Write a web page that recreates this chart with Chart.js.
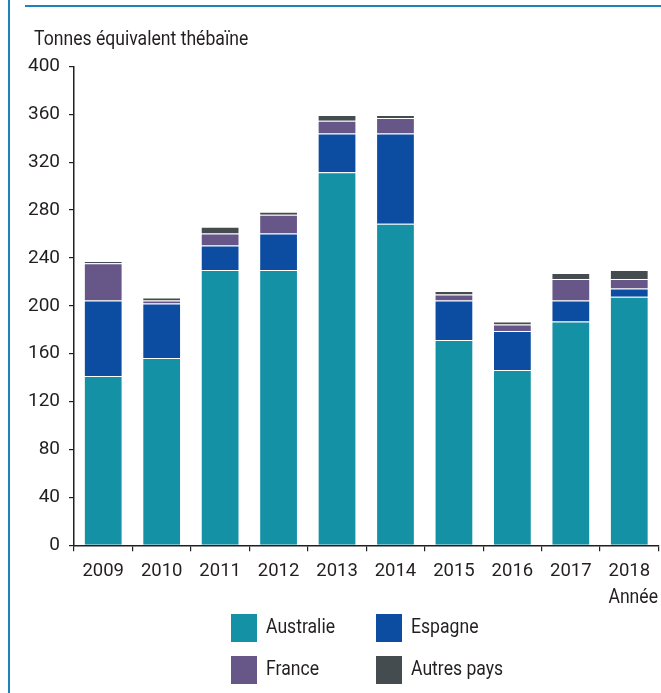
<!DOCTYPE html>
<html>
<head>
<meta charset="utf-8">
<script src="https://cdn.jsdelivr.net/npm/chart.js@4/dist/chart.umd.min.js"></script>
<style>
  html, body { margin: 0; padding: 0; background: #fff; }
  #wrap { width: 661px; height: 693px; }
</style>
</head>
<body>
<div id="wrap"><canvas id="c" width="661" height="693"></canvas></div>
<script>
// Imports of thebaine-equivalent raw material, tonnes, by origin country
const years     = ['2009', '2010', '2011', '2012', '2013', '2014', '2015', '2016', '2017', '2018'];
const australie = [141.5, 156.5, 230, 230, 311.5, 268.5, 171.5, 146.5, 187, 207.5];
const espagne   = [63, 45.5, 20.5, 30.5, 32.5, 75.5, 33, 32.5, 17.5, 7];
const france    = [31, 2.5, 10, 15.5, 10.5, 13, 5, 5.5, 18, 8];
const autres    = [2, 2.5, 5.5, 2.5, 5, 2.5, 3, 2.5, 5, 7.5];

const seriesNames  = ['Australie', 'Espagne', 'France', 'Autres pays'];
const seriesColors = ['#1591a6', '#0c4da1', '#675789', '#454c4f'];
const yTitle = 'Tonnes équivalent thébaïne';
const xTitle = 'Année';

const FONT = 'Roboto, "Liberation Sans", sans-serif';
const INK = '#231f20';

// Page frame: blue rule on the left and along the top
const framePlugin = {
  id: 'frame',
  beforeDraw(chart) {
    const ctx = chart.ctx;
    ctx.save();
    ctx.fillStyle = '#ffffff';
    ctx.fillRect(0, 0, chart.width, chart.height);
    ctx.strokeStyle = '#1b84b8';
    ctx.lineWidth = 2;
    ctx.beginPath();
    ctx.moveTo(9, 0); ctx.lineTo(9, chart.height);
    ctx.moveTo(25, 6); ctx.lineTo(chart.width, 6);
    ctx.stroke();
    ctx.restore();
  }
};

// Narrow text: draw horizontally compressed around its anchor point
function narrowText(ctx, text, x, y, align, baseline) {
  const k = 0.88;
  ctx.save();
  ctx.translate(x, y);
  ctx.scale(k, 1);
  ctx.textAlign = align;
  ctx.textBaseline = baseline;
  ctx.fillText(text, 0, 0);
  ctx.restore();
}

// Axis captions and the two-by-two legend
const textPlugin = {
  id: 'texts',
  afterDraw(chart) {
    const ctx = chart.ctx;
    ctx.save();
    ctx.fillStyle = INK;
    ctx.font = '20px ' + FONT;
    narrowText(ctx, yTitle, 34, 45, 'left', 'alphabetic');
    narrowText(ctx, xTitle, 658, 598, 'right', 'middle');

    const cols = [231, 376];
    const rows = [614, 656];
    chart.data.datasets.forEach((ds, i) => {
      const x = cols[i % 2];
      const y = rows[Math.floor(i / 2)];
      ctx.fillStyle = ds.backgroundColor;
      ctx.fillRect(x, y, 26, 28);
      ctx.fillStyle = INK;
      narrowText(ctx, ds.label, x + 35, y + 14, 'left', 'middle');
    });
    ctx.restore();
  }
};

const values = [australie, espagne, france, autres];

new Chart(document.getElementById('c'), {
  type: 'bar',
  data: {
    labels: years,
    datasets: values.map((v, i) => ({
      label: seriesNames[i],
      data: v,
      backgroundColor: seriesColors[i],
      borderColor: 'rgba(255,255,255,0.28)',
      borderWidth: { top: 1, left: 1, right: 1, bottom: 0 },
      borderSkipped: false,
      categoryPercentage: 1,
      barPercentage: 0.663
    }))
  },
  options: {
    responsive: false,
    animation: false,
    devicePixelRatio: 1,
    layout: { padding: { top: 66.4, right: 2.5, left: 0, bottom: 0 } },
    plugins: { legend: { display: false }, tooltip: { enabled: false } },
    scales: {
      x: {
        stacked: true,
        afterFit(scale) { scale.height = 147.7; },
        grid: { offset: true, drawOnChartArea: false, tickLength: 6, color: INK, lineWidth: 1.2 },
        border: { color: INK, width: 1.5 },
        ticks: { color: INK, font: { family: FONT, size: 18.5 }, padding: 9, maxRotation: 0 }
      },
      y: {
        stacked: true,
        min: 0, max: 400,
        afterFit(scale) { scale.width = 74; },
        grid: { drawOnChartArea: false, tickLength: 5, color: INK, lineWidth: 1.2 },
        border: { color: INK, width: 1.5 },
        ticks: { stepSize: 40, color: INK, font: { family: FONT, size: 19 }, padding: 9 }
      }
    }
  },
  plugins: [framePlugin, textPlugin]
});
</script>
</body>
</html>
